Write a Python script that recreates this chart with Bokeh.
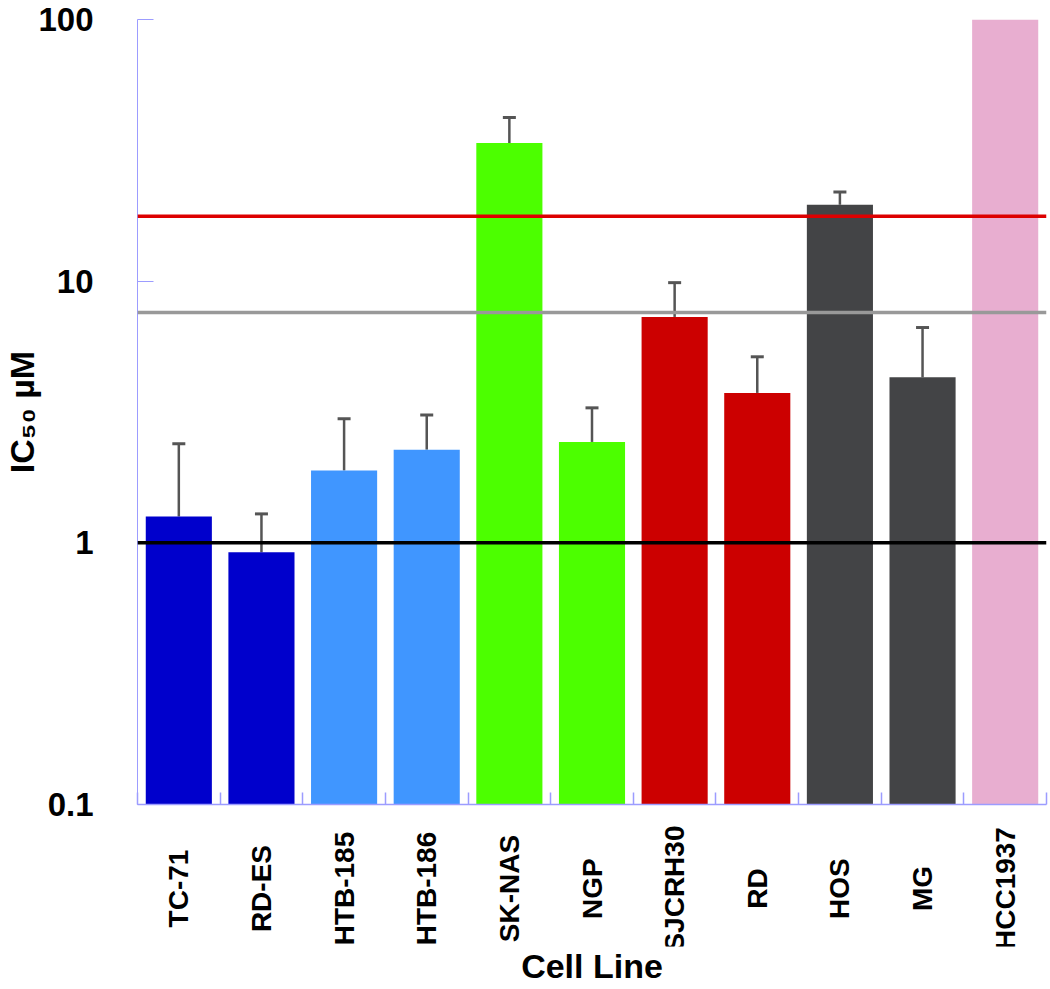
import numpy as np
from bokeh.plotting import figure
from bokeh.layouts import column
from bokeh.models import Range1d, FixedTicker, Span, Whisker, TeeHead, ColumnDataSource
from bokeh.core.properties import value
from bokeh.embed import file_html
from bokeh.resources import INLINE

# ---------------- data ----------------
cell_lines = ["TC-71", "RD-ES", "HTB-185", "HTB-186", "SK-NAS", "NGP",
              "SJCRH30", "RD", "HOS", "MG", "HCC1937"]
ic50 = [1.26, 0.92, 1.89, 2.27, 33.7, 2.43, 7.30, 3.74, 19.6, 4.29, 100.0]
ic50_upper = [2.39, 1.29, 2.98, 3.08, 42.2, 3.28, 9.87, 5.14, 21.9, 6.65, None]
bar_colors = ["#0000cc", "#0000cc", "#4096ff", "#4096ff", "#4cff00", "#4cff00",
              "#cc0000", "#cc0000", "#434446", "#434446", "#e8aed0"]
reference_lines = [17.7, 7.59, 1.0]
reference_line_colors = ["#dd0000", "#999999", "#000000"]
y_ticks = [0.1, 1.0, 10.0, 100.0]
y_tick_labels = ["0.1", "1", "10", "100"]

FONT = "Liberation Sans"
AXIS_COLOR = "#9c9cff"

n = len(cell_lines)
xpos = [i + 0.5 for i in range(n)]
xr = Range1d(0, n)

# ---------------- main plot ----------------
p = figure(width=1050, height=824, x_range=xr, y_range=Range1d(0.1, 100),
           y_axis_type="log", output_backend="svg", toolbar_location=None,
           min_border_top=19, min_border_left=135, min_border_right=4, min_border_bottom=20)
p.outline_line_color = None
p.xgrid.visible = False
p.ygrid.visible = False

bars = ColumnDataSource(dict(x=xpos, top=ic50, color=bar_colors))
p.vbar(x="x", top="top", bottom=0.1, width=0.8, fill_color="color", line_color=None, source=bars)

ex = [xpos[i] for i in range(n) if ic50_upper[i] is not None]
elo = [ic50[i] for i in range(n) if ic50_upper[i] is not None]
ehi = [ic50_upper[i] for i in range(n) if ic50_upper[i] is not None]
err = ColumnDataSource(dict(x=ex, lower=elo, upper=ehi))
p.add_layout(Whisker(source=err, base="x", lower="lower", upper="upper", dimension="height",
                     line_color="#555555", line_width=2.5,
                     upper_head=TeeHead(size=13, line_color="#555555", line_width=3),
                     lower_head=None))

for loc, col in zip(reference_lines, reference_line_colors):
    p.add_layout(Span(location=loc, dimension="width", line_color=col, line_width=3.5))

ya = p.yaxis[0]
ya.ticker = FixedTicker(ticks=y_ticks, minor_ticks=[])
ya.major_label_overrides = dict(zip(y_ticks, y_tick_labels))
ya.axis_line_color = AXIS_COLOR
ya.major_tick_line_color = AXIS_COLOR
ya.major_tick_in = 16
ya.major_tick_out = 0
ya.major_label_standoff = 44
ya.major_label_text_font = FONT
ya.major_label_text_font_style = "bold"
ya.major_label_text_font_size = "33px"
ya.major_label_text_color = "black"
ya.axis_label = "IC₅₀ µM"
ya.axis_label_text_font = FONT
ya.axis_label_text_font_style = "bold"
ya.axis_label_text_font_size = "34px"
ya.axis_label_text_color = "black"
ya.axis_label_standoff = -6

xa = p.xaxis[0]
xa.ticker = FixedTicker(ticks=[], minor_ticks=list(range(n + 1)))
xa.axis_line_color = AXIS_COLOR
xa.axis_line_width = 1.5
xa.minor_tick_line_color = AXIS_COLOR
xa.minor_tick_line_width = 1.5
xa.minor_tick_in = 12
xa.minor_tick_out = 0
xa.major_tick_in = 0
xa.major_tick_out = 0
xa.major_label_standoff = 0

# ---------------- category labels + x title ----------------
p2 = figure(width=1050, height=163, x_range=xr, y_range=Range1d(0, 1),
            output_backend="svg", toolbar_location=None,
            min_border_top=0, min_border_left=135, min_border_right=4, min_border_bottom=0)
p2.outline_line_color = None
p2.xgrid.visible = False
p2.ygrid.visible = False
p2.yaxis.visible = False

lab = ColumnDataSource(dict(x=xpos, y=[0.475] * n, text=cell_lines))
p2.text(x="x", y="y", text="text", source=lab, angle=np.pi / 2,
        text_align="center", text_baseline="middle", text_font=value(FONT),
        text_font_style="bold", text_font_size="28px", text_color="black")

xa2 = p2.xaxis[0]
xa2.ticker = FixedTicker(ticks=[], minor_ticks=[])
xa2.axis_line_color = None
xa2.major_tick_in = 0
xa2.major_tick_out = 0
xa2.major_label_standoff = 0
xa2.axis_label = "Cell Line"
xa2.axis_label_standoff = 0
xa2.axis_label_text_font = FONT
xa2.axis_label_text_font_style = "bold"
xa2.axis_label_text_font_size = "34px"
xa2.axis_label_text_color = "black"

layout = column(p, p2, spacing=0)
open("out.html", "w").write(file_html(layout, INLINE))
